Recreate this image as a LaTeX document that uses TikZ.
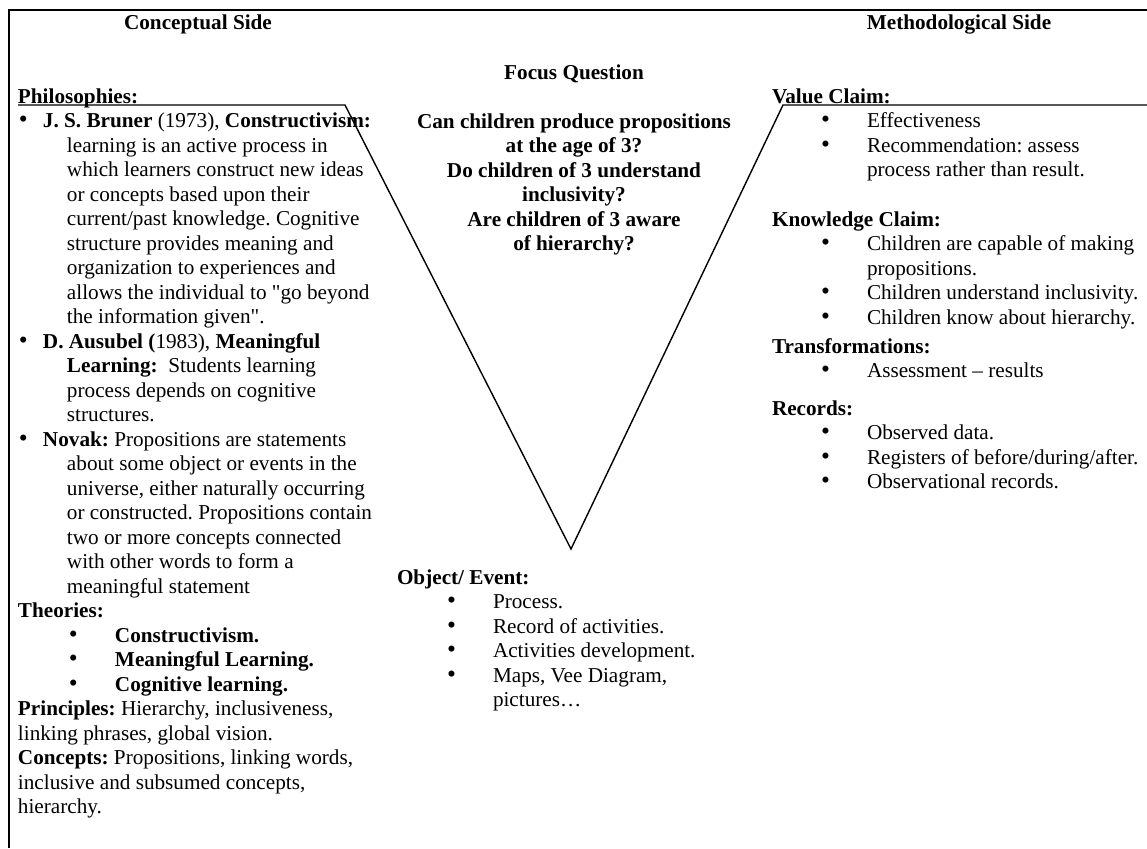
\documentclass[tikz,border=0pt]{standalone}
\usepackage{graphicx}
\usepackage{fontspec}
\setmainfont{Liberation Serif}[Ligatures=TeXOff]
\newlength\upx
\setlength\upx{0.5pt}
\newcommand\bl[2]{\hspace*{#1\upx}\makebox[#2\upx][l]{\scalebox{1.2}{\textbullet}}}
\newcommand\ind[1]{\hspace*{#1\upx}}
\begin{document}
\frenchspacing
\fontsize{10.6pt}{12.25pt}\selectfont
\begin{tikzpicture}[x=0.5pt,y=-0.5pt,
  blk/.style={anchor=base west,inner sep=0,outer sep=0},
  ctr/.style={anchor=base,inner sep=0,outer sep=0},
  frameline/.style={line width=1pt,black},
  veeline/.style={line width=0.7pt,black}]
\useasboundingbox (0,0) rectangle (1147,848);
% frame
\coordinate (f1) at (1147,10);
\coordinate (f2) at (9,10);
\coordinate (f3) at (9,848);
\draw[frameline] (f1) -- (f2) -- (f3);
% vee
\coordinate (v1) at (18,105);
\coordinate (v2) at (345,105);
\coordinate (vb) at (571,549);
\coordinate (v3) at (783,105);
\coordinate (v4) at (1147,105);
\draw[veeline] (v1) -- (v2) -- (vb) -- (v3) -- (v4);
% headers
\node[ctr,font=\bfseries] (cside) at (198,29) {Conceptual Side};
\node[ctr,font=\bfseries] (mside) at (959,29) {Methodological Side};
\node[ctr,font=\bfseries] (fq) at (574,79) {Focus Question};
\node[ctr,font=\bfseries] (qs) at (574,128) {\begin{tabular}[t]{@{}c@{}}
Can children produce propositions\\
at the age of 3?\\
Do children of 3 understand\\
inclusivity?\\
Are children of 3 aware\\
of hierarchy?
\end{tabular}};
% left column
\node[blk] (phil) at (18,103) {\begin{tabular}[t]{@{}l@{}}
\textbf{Philosophies:}\\
\bl{1}{24}\textbf{J. S. Bruner} (1973), \textbf{Constructivism:}\\
\ind{49}learning is an active process in\\
\ind{49}which learners construct new ideas\\
\ind{49}or concepts based upon their\\
\ind{49}current/past knowledge. Cognitive\\
\ind{49}structure provides meaning and\\
\ind{49}organization to experiences and\\
\ind{49}allows the individual to "go beyond\\
\ind{49}the information given".\\
\bl{1}{24}\textbf{D. Ausubel (}1983), \textbf{Meaningful}\\
\ind{49}\textbf{Learning:}~ Students learning\\
\ind{49}process depends on cognitive\\
\ind{49}structures.\\
\bl{1}{24}\textbf{Novak:} Propositions are statements\\
\ind{49}about some object or events in the\\
\ind{49}universe, either naturally occurring\\
\ind{49}or constructed. Propositions contain\\
\ind{49}two or more concepts connected\\
\ind{49}with other words to form a\\
\ind{49}meaningful statement\\
\textbf{Theories:}\\
\bl{51}{46}\textbf{Constructivism.}\\
\bl{51}{46}\textbf{Meaningful Learning.}\\
\bl{51}{46}\textbf{Cognitive learning.}\\
\textbf{Principles:} Hierarchy, inclusiveness,\\
linking phrases, global vision.\\
\textbf{Concepts:} Propositions, linking words,\\
inclusive and subsumed concepts,\\
hierarchy.
\end{tabular}};
% object / event
\node[blk] (obj) at (397,584) {\begin{tabular}[t]{@{}l@{}}
\textbf{Object/ Event:}\\
\bl{50}{46}Process.\\
\bl{50}{46}Record of activities.\\
\bl{50}{46}Activities development.\\
\bl{50}{46}Maps, Vee Diagram,\\
\ind{96}pictures…
\end{tabular}};
% right column
\node[blk] (val) at (772,103) {\begin{tabular}[t]{@{}l@{}}
\textbf{Value Claim:}\\
\bl{49}{46}Effectiveness\\
\bl{49}{46}Recommendation: assess\\
\ind{95}process rather than result.
\end{tabular}};
\node[blk] (know) at (772,226) {\begin{tabular}[t]{@{}l@{}}
\textbf{Knowledge Claim:}\\
\bl{49}{46}Children are capable of making\\
\ind{95}propositions.\\
\bl{49}{46}Children understand inclusivity.\\
\bl{49}{46}Children know about hierarchy.
\end{tabular}};
\node[blk] (trans) at (772,353) {\begin{tabular}[t]{@{}l@{}}
\textbf{Transformations:}\\
\bl{49}{46}Assessment – results
\end{tabular}};
\node[blk] (rec) at (772,415) {\begin{tabular}[t]{@{}l@{}}
\textbf{Records:}\\
\bl{49}{46}Observed data.\\
\bl{49}{46}Registers of before/during/after.\\
\bl{49}{46}Observational records.
\end{tabular}};
\end{tikzpicture}
\end{document}
